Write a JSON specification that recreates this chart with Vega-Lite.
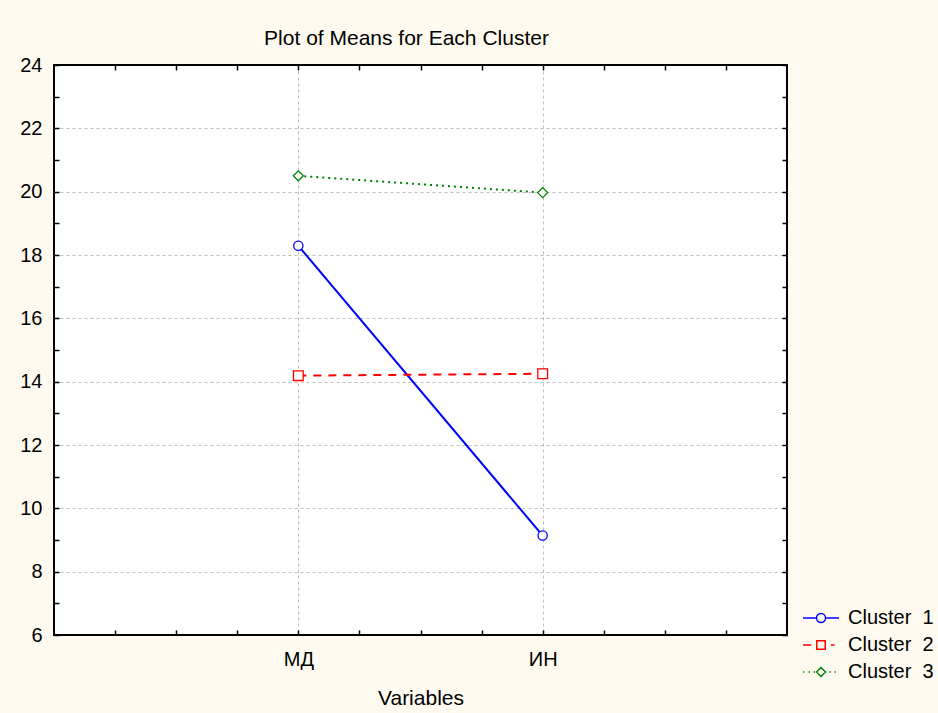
{
  "$schema": "https://vega.github.io/schema/vega-lite/v6.json",
  "width": 733,
  "height": 570,
  "autosize": "none",
  "padding": {"left": 54, "top": 65, "right": 151, "bottom": 78},
  "background": "#fffaf0",
  "title": {
    "text": "Plot of Means for Each Cluster",
    "fontSize": 21,
    "fontWeight": "normal",
    "font": "Liberation Sans",
    "color": "#000000",
    "anchor": "middle",
    "dx": -14,
    "dy": 32,
    "offset": 21,
    "baseline": "alphabetic"
  },
  "config": {
    "view": {"stroke": "#000000", "strokeWidth": 2, "fill": "#ffffff"},
    "axis": {
      "labelFont": "Liberation Sans",
      "titleFont": "Liberation Sans",
      "labelFontSize": 20,
      "titleFontSize": 21,
      "titleFontWeight": "normal",
      "labelColor": "#000000",
      "titleColor": "#000000",
      "tickColor": "#000000",
      "tickWidth": 1.5,
      "domain": false
    },
    "legend": {
      "labelFont": "Liberation Sans",
      "labelFontSize": 20,
      "labelColor": "#000000"
    }
  },
  "data": {
    "values": [
      {"cluster": "Cluster 1", "variable": "МД", "mean": 18.29},
      {"cluster": "Cluster 1", "variable": "ИН", "mean": 9.14},
      {"cluster": "Cluster 2", "variable": "МД", "mean": 14.19},
      {"cluster": "Cluster 2", "variable": "ИН", "mean": 14.25},
      {"cluster": "Cluster 3", "variable": "МД", "mean": 20.5},
      {"cluster": "Cluster 3", "variable": "ИН", "mean": 19.97}
    ]
  },
  "layer": [
    {
      "transform": [{"filter": "datum.cluster === 'Cluster 1'"}],
      "mark": {"type": "line", "strokeWidth": 2, "color": "#0000ff"},
      "encoding": {
        "x": {
          "field": "variable",
          "type": "nominal",
          "sort": ["МД", "ИН"],
          "scale": {"type": "point", "padding": 1, "domain": ["МД", "ИН"]},
          "axis": {
            "orient": "bottom",
            "title": "Variables",
            "labelAngle": 0,
            "tickSize": -5,
            "labelPadding": 19,
            "titlePadding": 18,
            "grid": true,
            "gridColor": "#bdbdbd",
            "gridDash": [3, 3],
            "gridWidth": 1
          }
        },
        "y": {
          "field": "mean",
          "type": "quantitative",
          "scale": {"domain": [6, 24], "nice": false, "zero": false},
          "axis": {
            "orient": "left",
            "title": null,
            "values": [6, 7, 8, 9, 10, 11, 12, 13, 14, 15, 16, 17, 18, 19, 20, 21, 22, 23, 24],
            "labelExpr": "datum.value % 2 === 0 ? datum.label : ''",
            "tickSize": -5,
            "labelPadding": 17,
            "grid": true,
            "gridDash": [3, 3],
            "gridWidth": 1,
            "gridColor": {
              "condition": {"test": "datum.value % 2 === 0 && datum.value > 6 && datum.value < 24", "value": "#bdbdbd"},
              "value": "transparent"
            }
          }
        }
      }
    },
    {
      "transform": [{"filter": "datum.cluster === 'Cluster 2'"}],
      "mark": {"type": "line", "strokeWidth": 2, "color": "#ff0000", "strokeDash": [8, 7]},
      "encoding": {
        "x": {"field": "variable", "type": "nominal", "sort": ["МД", "ИН"], "scale": {"type": "point", "padding": 1, "domain": ["МД", "ИН"]}, "axis": null},
        "y": {"field": "mean", "type": "quantitative", "axis": null}
      }
    },
    {
      "transform": [{"filter": "datum.cluster === 'Cluster 3'"}],
      "mark": {"type": "line", "strokeWidth": 2, "color": "#008000", "strokeDash": [2, 4]},
      "encoding": {
        "x": {"field": "variable", "type": "nominal", "sort": ["МД", "ИН"], "scale": {"type": "point", "padding": 1, "domain": ["МД", "ИН"]}, "axis": null},
        "y": {"field": "mean", "type": "quantitative", "axis": null}
      }
    },
    {
      "transform": [{"filter": "datum.cluster === 'Cluster 1'"}],
      "mark": {"type": "point", "shape": "circle", "filled": false, "fill": "#ffffff", "stroke": "#0000ff", "size": 85, "strokeWidth": 1.3, "opacity": 1},
      "encoding": {
        "x": {"field": "variable", "type": "nominal", "sort": ["МД", "ИН"], "scale": {"type": "point", "padding": 1, "domain": ["МД", "ИН"]}, "axis": null},
        "y": {"field": "mean", "type": "quantitative", "axis": null}
      }
    },
    {
      "transform": [{"filter": "datum.cluster === 'Cluster 2'"}],
      "mark": {"type": "point", "shape": "square", "filled": false, "fill": "#ffffff", "stroke": "#ff0000", "size": 95, "strokeWidth": 1.3, "opacity": 1},
      "encoding": {
        "x": {"field": "variable", "type": "nominal", "sort": ["МД", "ИН"], "scale": {"type": "point", "padding": 1, "domain": ["МД", "ИН"]}, "axis": null},
        "y": {"field": "mean", "type": "quantitative", "axis": null}
      }
    },
    {
      "transform": [{"filter": "datum.cluster === 'Cluster 3'"}],
      "mark": {"type": "point", "shape": "diamond", "filled": false, "fill": "#ffffff", "stroke": "#008000", "size": 100, "strokeWidth": 1.3, "opacity": 1},
      "encoding": {
        "x": {"field": "variable", "type": "nominal", "sort": ["МД", "ИН"], "scale": {"type": "point", "padding": 1, "domain": ["МД", "ИН"]}, "axis": null},
        "y": {"field": "mean", "type": "quantitative", "axis": null}
      }
    },
    {
      "mark": {"type": "point", "filled": false, "opacity": 0},
      "encoding": {
        "x": {
          "datum": 0,
          "type": "quantitative",
          "scale": {"domain": [0, 3], "nice": false, "zero": false},
          "axis": {
            "orient": "bottom",
            "title": null,
            "labels": false,
            "grid": false,
            "tickSize": -5,
            "values": [0.25, 0.5, 0.75, 1.25, 1.5, 1.75, 2.25, 2.5, 2.75]
          }
        }
      }
    },
    {
      "mark": {"type": "point", "filled": false, "opacity": 0, "strokeWidth": 1.5},
      "encoding": {
        "x": {
          "datum": 0,
          "type": "quantitative",
          "scale": {"domain": [0, 3], "nice": false, "zero": false},
          "axis": {
            "orient": "top",
            "title": null,
            "labels": false,
            "grid": false,
            "tickSize": -5,
            "values": [0.25, 0.5, 0.75, 1, 1.25, 1.5, 1.75, 2, 2.25, 2.5, 2.75]
          }
        },
        "y": {
          "field": "mean",
          "type": "quantitative",
          "axis": {
            "orient": "right",
            "title": null,
            "labels": false,
            "grid": false,
            "tickSize": -5,
            "values": [6, 7, 8, 9, 10, 11, 12, 13, 14, 15, 16, 17, 18, 19, 20, 21, 22, 23, 24]
          }
        },
        "color": {
          "field": "cluster",
          "type": "nominal",
          "scale": {"domain": ["Cluster 1", "Cluster 2", "Cluster 3"], "range": ["#0000ff", "#ff0000", "#008000"]},
          "legend": {
            "title": null,
            "orient": "none",
            "legendX": 757,
            "legendY": 543,
            "padding": 0,
            "rowPadding": 7,
            "symbolStrokeWidth": 1.5,
            "symbolSize": 324,
            "symbolOpacity": 1,
            "labelOffset": 17,
            "labelExpr": "replace(datum.label, ' ', '\u00a0\u00a0')"
          }
        },
        "shape": {
          "field": "cluster",
          "type": "nominal",
          "scale": {
            "domain": ["Cluster 1", "Cluster 2", "Cluster 3"],
            "range": [
              "M-2,0H-0.5M0.5,0H2M-0.5,0A0.5,0.5 0 1,0 0.5,0A0.5,0.5 0 1,0 -0.5,0",
              "M-2,0H-1.1M-0.47,-0.47H0.47V0.47H-0.47ZM1.1,0H1.5",
              "M-2,0H-1.85M-1.38,0H-1.23M-0.82,0H-0.67M-0.5,0L0,-0.5L0.5,0L0,0.5ZM0.95,0H1.1M1.5,0H1.65"
            ]
          },
          "legend": {
            "title": null,
            "orient": "none",
            "legendX": 757,
            "legendY": 543,
            "padding": 0,
            "rowPadding": 7,
            "symbolStrokeWidth": 1.5,
            "symbolSize": 324,
            "symbolOpacity": 1,
            "labelOffset": 17,
            "labelExpr": "replace(datum.label, ' ', '\u00a0\u00a0')"
          }
        }
      }
    }
  ],
  "resolve": {"scale": {"x": "independent"}, "axis": {"x": "independent", "y": "independent"}}
}
